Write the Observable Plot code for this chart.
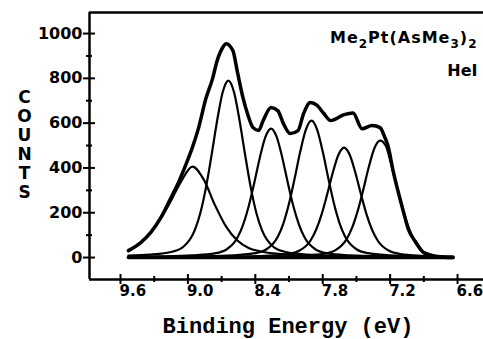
<!DOCTYPE html>
<html><head><meta charset="utf-8">
<script src="https://cdn.jsdelivr.net/npm/d3@7"></script>
<script src="https://cdn.jsdelivr.net/npm/@observablehq/plot@0.6"></script>
<style>html,body{margin:0;padding:0;background:#fff}</style>
</head><body><div id="chart"></div>
<script>
// Axis ticks
const xMajor = [9.6, 9.0, 8.4, 7.8, 7.2, 6.6];
const xMajorLabels = ["9.6", "9.0", "8.4", "7.8", "7.2", "6.6"];
const xMinor = [9.3, 8.7, 8.1, 7.5, 6.9];
const yMajor = [0, 200, 400, 600, 800, 1000];
const yMajorLabels = ["0", "200", "400", "600", "800", "1000"];
const yMinor = [100, 300, 500, 700, 900];
const xDomain = [9.876, 6.369];
const yDomain = [-98, 1094];

// Texts
const titleText = "Me2Pt(AsMe3)2";
const titleParts = ["Me", "2", "Pt(AsMe", "3", ")", "2"];
const titleSub = [false, true, false, true, false, true];
const sourceText = "HeI";
const xLabel = "Binding Energy (eV)";
const yLabel = "C\nO\nU\nN\nT\nS";

// Envelope (measured spectrum / fit sum)
const envE = [9.53, 9.42, 9.33, 9.24, 9.16, 9.08, 9.00, 8.96, 8.91, 8.84, 8.78, 8.74, 8.69, 8.66, 8.60, 8.56, 8.51, 8.47, 8.42, 8.37, 8.33, 8.26, 8.20, 8.15, 8.09, 8.02, 7.97, 7.91, 7.85, 7.79, 7.73, 7.61, 7.53, 7.45, 7.36, 7.29, 7.25, 7.22, 7.17, 7.12, 7.08, 7.04, 6.97, 6.90, 6.78, 6.64];
const envC = [31, 67, 112, 179, 258, 340, 438, 492, 570, 710, 800, 879, 938, 955, 924, 830, 714, 643, 580, 567, 612, 670, 656, 598, 554, 567, 643, 692, 679, 643, 612, 638, 645, 575, 590, 580, 540, 500, 379, 277, 201, 129, 67, 22, 5, 0];

// Fitted components
const c1E = [9.53, 9.46, 9.36, 9.26, 9.16, 9.06, 8.96, 8.86, 8.76, 8.66, 8.56, 8.46, 8.36, 8.16, 7.96, 7.66, 7.20, 6.64];
const c1C = [30, 50, 95, 160, 245, 340, 406, 349, 235, 138, 76, 43, 28, 15, 10, 6, 4, 2];
const c2E = [9.53, 9.34, 9.14, 9.04, 8.94, 8.89, 8.84, 8.79, 8.74, 8.69, 8.64, 8.59, 8.54, 8.49, 8.44, 8.39, 8.34, 8.24, 8.14, 7.94, 7.64, 7.14, 6.64];
const c2C = [9, 13, 26, 48, 121, 198, 311, 456, 611, 739, 790, 739, 611, 456, 311, 198, 121, 48, 26, 13, 7, 3, 2];
const c3E = [9.53, 9.26, 8.96, 8.76, 8.66, 8.56, 8.51, 8.46, 8.41, 8.36, 8.31, 8.26, 8.21, 8.16, 8.11, 8.06, 8.01, 7.96, 7.86, 7.76, 7.56, 7.26, 6.64];
const c3C = [3, 5, 10, 19, 35, 88, 145, 227, 332, 446, 539, 576, 539, 446, 332, 227, 145, 88, 35, 19, 10, 5, 2];
const c4E = [9.53, 9.40, 8.90, 8.60, 8.40, 8.30, 8.20, 8.15, 8.10, 8.05, 8.00, 7.95, 7.90, 7.85, 7.80, 7.75, 7.70, 7.65, 7.60, 7.50, 7.40, 7.20, 6.90, 6.64];
const c4C = [1, 2, 5, 10, 20, 37, 93, 153, 241, 353, 473, 571, 611, 571, 473, 353, 241, 153, 93, 37, 20, 10, 5, 3];
const c5E = [9.53, 9.11, 8.61, 8.31, 8.11, 8.01, 7.91, 7.86, 7.81, 7.76, 7.71, 7.66, 7.61, 7.56, 7.51, 7.46, 7.41, 7.36, 7.31, 7.21, 7.11, 6.91, 6.64];
const c5C = [1, 2, 4, 8, 16, 30, 75, 123, 193, 283, 380, 459, 491, 459, 380, 283, 193, 123, 75, 30, 16, 8, 4];
const c6E = [9.53, 8.79, 8.29, 7.99, 7.79, 7.69, 7.59, 7.54, 7.49, 7.44, 7.39, 7.34, 7.29, 7.24, 7.19, 7.14, 7.09, 7.04, 6.99, 6.94, 6.89, 6.79, 6.64];
const c6C = [1, 2, 4, 9, 17, 32, 80, 131, 206, 301, 404, 488, 522, 500, 415, 315, 222, 140, 80, 40, 18, 5, 1];

// Baseline
const baseE = [9.53, 6.64];
const baseC = [0, 0];

const rows = (E, C, k) => E.map((e, i) => ({e, c: C[i], k}));
const envRows = rows(envE, envC, "env");
const compRows = [[c1E, c1C], [c2E, c2C], [c3E, c3C], [c4E, c4C], [c5E, c5C], [c6E, c6C]]
  .flatMap(([E, C], k) => rows(E, C, k));
const baseRows = rows(baseE, baseC, "base");

const ink = "#000";
const W = 483, H = 339, ML = 89, MR = 0, MT = 12, MB = 60;
const tickFont = "DejaVu Sans";

const chart = Plot.plot({
  width: W, height: H,
  marginLeft: ML, marginRight: MR, marginTop: MT, marginBottom: MB,
  x: {domain: xDomain, axis: null},
  y: {domain: yDomain, axis: null},
  style: {background: "#fff", fontFamily: tickFont, color: ink},
  marks: [
    // frame lines
    Plot.ruleX([xDomain[0]], {stroke: ink, strokeWidth: 2.5}),
    Plot.ruleY([yDomain[1]], {stroke: ink, strokeWidth: 2.5}),
    Plot.ruleY([yDomain[0]], {stroke: ink, strokeWidth: 2.5}),
    // ticks crossing the axes
    Plot.ruleY(yMajor, {stroke: ink, strokeWidth: 2, insetLeft: -6, insetRight: W - MR - (ML + 6)}),
    Plot.ruleY(yMinor, {stroke: ink, strokeWidth: 2, insetLeft: -3, insetRight: W - MR - (ML + 3)}),
    Plot.ruleX(xMajor, {stroke: ink, strokeWidth: 2, insetTop: H - MB - MT - 5, insetBottom: -5}),
    Plot.ruleX(xMinor, {stroke: ink, strokeWidth: 2, insetTop: H - MB - MT - 3, insetBottom: -3}),
    // tick labels
    Plot.text(yMajor, {y: d => d, text: (d, i) => yMajorLabels[i], frameAnchor: "left", dx: -7, textAnchor: "end",
      fontSize: 16, fontWeight: "bold", fontFamily: tickFont, fill: ink}),
    Plot.text(xMajor, {x: d => d, text: (d, i) => xMajorLabels[i], frameAnchor: "bottom", dy: 16, dx: -1, textAnchor: "start",
      fontSize: 15, fontWeight: "bold", fontFamily: tickFont, fill: ink}),
    // axis labels
    Plot.text([xLabel], {frameAnchor: "bottom", dx: 1.5, dy: 53, lineAnchor: "bottom",
      fontSize: 22, fontWeight: "bold", fontFamily: "Liberation Mono", fill: ink}),
    Plot.text([yLabel], {frameAnchor: "left", dx: -65, dy: -2, lineAnchor: "middle", textAnchor: "middle", lineHeight: 1.12,
      fontSize: 17, fontWeight: "bold", fontFamily: tickFont, fill: ink}),
    // annotations
    Plot.text([titleText], {frameAnchor: "top-right", dx: -6, dy: 30, lineAnchor: "bottom", textAnchor: "end",
      fontSize: 16, fontWeight: "bold", fontFamily: tickFont, fill: ink}),
    Plot.text([sourceText], {frameAnchor: "top-right", dx: -6, dy: 63, lineAnchor: "bottom", textAnchor: "end",
      fontSize: 16, fontWeight: "bold", fontFamily: tickFont, fill: ink}),
    // data
    Plot.line(baseRows, {x: "e", y: "c", stroke: ink, strokeWidth: 3.5}),
    Plot.line(compRows, {x: "e", y: "c", z: "k", curve: "monotone-x", stroke: ink, strokeWidth: 2.2}),
    Plot.line(envRows, {x: "e", y: "c", curve: "monotone-x", stroke: ink, strokeWidth: 3.5})
  ]
});

// render the subscripts of the compound name
d3.select(chart).selectAll("text")
  .filter(function () { return this.textContent === titleText; })
  .each(function () {
    const t = d3.select(this).text(null).attr("letter-spacing", 1);
    let shifted = false;
    titleParts.forEach((p, i) => {
      const s = t.append("tspan").text(p);
      if (titleSub[i]) { s.attr("font-size", 12).attr("dy", shifted ? 0 : 5); shifted = true; }
      else { s.attr("dy", shifted ? -5 : 0); shifted = false; }
    });
  });

document.getElementById("chart").appendChild(chart);
</script>
</body></html>
